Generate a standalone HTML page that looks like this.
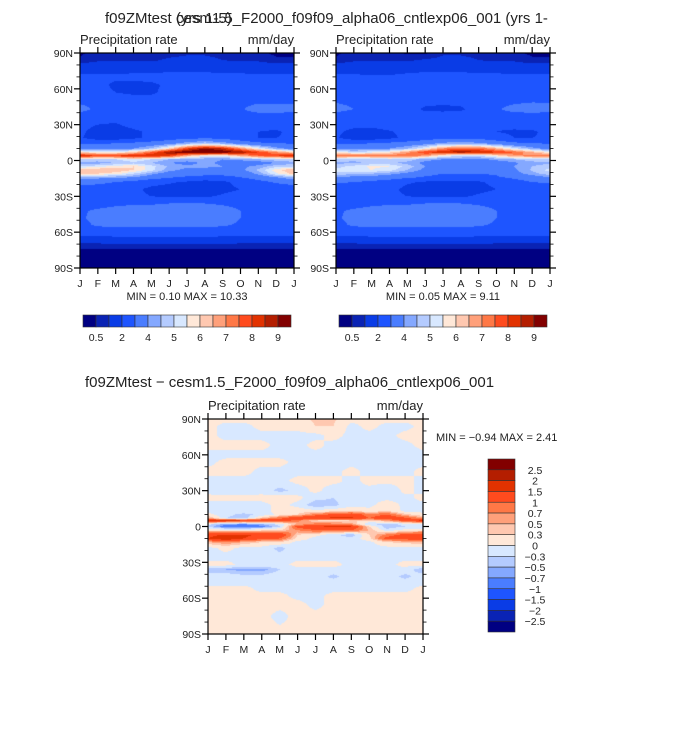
<!DOCTYPE html>
<html><head><meta charset="utf-8">
<style>
html,body{margin:0;padding:0;background:#fff;}
#root{position:relative;width:673px;height:741px;overflow:hidden;font-family:"Liberation Sans",sans-serif;}
canvas{position:absolute;}
svg{position:absolute;left:0;top:0;}
</style></head>
<body>
<div id="root">
<canvas id="cA" style="left:80px;top:53px" width="214" height="215"></canvas>
<canvas id="cB" style="left:336px;top:53px" width="214" height="215"></canvas>
<canvas id="cC" style="left:208px;top:419px" width="215" height="215"></canvas>
<svg id="ov" width="673" height="741"></svg>
</div>
<script>
const months=["J","F","M","A","M","J","J","A","S","O","N","D","J"];
const latTicks=["90N","60N","30N","0","30S","60S","90S"];
const levelsAbs=[0.5,1,2,3,4,4.5,5,5.5,6,6.5,7,7.5,8,8.5,9];
const levelsAbsLabels=["0.5","2","4","5","6","7","8","9"];
const levelsDiff=[-2.5,-2,-1.5,-1,-0.7,-0.5,-0.3,0,0.3,0.5,0.7,1,1.5,2,2.5];
const levelsDiffLabels=["2.5","2","1.5","1","0.7","0.5","0.3","0","\u22120.3","\u22120.5","\u22120.7","\u22121","\u22121.5","\u22122","\u22122.5"];
const palette=["#000082","#0a23b4","#0a3ce6","#1e55ff","#4a7dff","#84a8ff","#b4cbff","#d8e8ff","#ffe8d8","#ffc8b0","#ffa07a","#ff7846","#ff4b1e","#e23200","#b41e00","#820000"];

const latsA=[90,84,78,70,63,57,50,43,37,30,24,19,14,10,7,4,1,-2,-5,-8,-11,-14,-18,-24,-30,-36,-42,-48,-54,-60,-65,-70,-75,-80,-90];
const precipA=[
[0.4,0.7,0.8,0.8,0.8,0.8,0.9,0.9,0.8,0.7,0.6,0.4,0.4],
[0.6,0.9,0.9,0.9,0.9,1.1,1.2,1.2,1.0,0.9,0.9,0.6,0.6],
[1.5,1.5,1.5,1.5,1.5,1.6,1.6,1.6,1.5,1.5,1.5,1.5,1.5],
[2.2,2.2,2.2,2.3,2.3,2.4,2.4,2.4,2.3,2.3,2.2,2.2,2.2],
[2.5,2.3,1.8,1.7,1.8,2.2,2.5,2.5,2.5,2.5,2.5,2.5,2.5],
[2.6,2.4,2.0,1.8,1.8,2.4,2.6,2.6,2.6,2.6,2.6,2.6,2.6],
[2.8,2.7,2.6,2.5,2.5,2.5,2.6,2.6,2.6,2.7,2.8,2.8,2.8],
[3.3,2.8,2.6,2.5,2.5,2.5,2.6,2.6,2.6,2.9,3.4,3.4,3.3],
[2.6,2.4,2.4,2.5,2.5,2.5,2.6,2.6,2.5,2.6,2.6,2.6,2.6],
[2.3,2.0,1.9,2.3,2.5,2.5,2.5,2.5,2.3,2.1,2.2,2.3,2.3],
[2.2,1.6,1.5,1.8,2.2,2.3,2.5,2.5,2.4,2.1,2.0,1.9,2.2],
[2.1,1.5,1.5,1.8,2.2,2.5,2.7,2.8,2.7,2.3,2.0,2.0,2.1],
[3.0,3.0,3.1,3.3,3.5,3.8,4.5,5,4.5,3.8,3.3,3.1,3.0],
[3.6,3.6,3.8,4.0,4.6,6,8,9,8.5,7,5.5,4.3,3.6],
[6,5.5,5.5,6,7.5,9,9.5,10,9.5,9,8,7,6],
[8.5,8,8,8.5,8.5,8,6.5,5.5,5.5,6.5,7.5,8,8.5],
[5,4.8,5,5.5,5,4.5,4.3,4.2,4,4.2,4.5,4.8,5],
[4.3,4.3,4.5,4.8,4.5,4.0,3.8,4.1,3.9,3.5,3.6,4,4.3],
[5,5.3,5.7,6,5.2,4.4,4.1,4.2,4.0,3.8,4.2,4.8,5],
[6.5,6.5,6.5,6,5.2,4.2,3.8,3.6,3.6,3.8,4.6,5.8,6.5],
[6.2,6,5.7,5,4.2,3.6,3.3,3.2,3.2,3.3,4.2,5.4,6.2],
[4.5,4.3,4.2,4,3.5,3.1,2.9,2.8,2.8,3.0,3.4,4.0,4.5],
[3.3,3.2,3.0,2.7,2.3,2.1,1.9,1.6,1.8,2.3,2.7,3.1,3.3],
[2.6,2.6,2.5,2.2,1.8,1.7,1.7,1.6,1.8,2.0,2.3,2.5,2.6],
[2.6,2.5,2.4,2.2,2.0,1.9,1.9,1.9,2.1,2.3,2.4,2.5,2.6],
[2.7,2.7,2.8,2.9,2.9,3.0,3.0,3.0,2.9,2.8,2.7,2.7,2.7],
[2.9,3.1,3.3,3.4,3.5,3.5,3.5,3.5,3.3,3.0,2.9,2.9,2.9],
[2.9,3.2,3.4,3.4,3.4,3.4,3.4,3.4,3.3,3.0,2.9,2.9,2.9],
[2.8,3.1,3.2,3.2,3.2,3.2,3.2,3.2,3.1,2.9,2.8,2.8,2.8],
[2.5,2.5,2.6,2.6,2.6,2.6,2.6,2.6,2.5,2.5,2.5,2.5,2.5],
[1.7,1.7,1.8,1.8,1.8,1.8,1.8,1.8,1.8,1.7,1.7,1.7,1.7],
[0.9,0.9,1.0,1.0,1.0,1.0,1.0,1.0,1.0,0.9,0.9,0.9,0.9],
[0.4,0.4,0.4,0.4,0.4,0.4,0.4,0.4,0.4,0.4,0.4,0.4,0.4],
[0.3,0.3,0.3,0.3,0.3,0.3,0.3,0.3,0.3,0.3,0.3,0.3,0.3],
[0.2,0.2,0.2,0.2,0.2,0.2,0.2,0.2,0.2,0.2,0.2,0.2,0.2]];

const latsB=latsA;
const precipB=[
[0.4,0.7,0.8,0.8,0.4,0.4,0.9,0.9,0.8,0.7,0.6,0.4,0.4],
[0.6,0.9,0.9,0.9,0.9,1.1,1.2,1.2,1.0,0.9,0.9,0.6,0.6],
[1.5,1.5,1.5,1.5,1.5,1.6,1.6,1.6,1.5,1.5,1.5,1.5,1.5],
[2.2,2.2,2.1,2.1,2.3,2.4,2.4,2.4,2.3,2.3,2.2,2.2,2.2],
[2.5,2.5,2.3,2.3,2.4,2.5,2.5,2.5,2.5,2.5,2.5,2.5,2.5],
[2.6,2.6,2.6,2.6,2.6,2.6,2.6,2.6,2.6,2.6,2.6,2.6,2.6],
[2.9,2.8,2.6,2.5,2.5,2.4,2.3,2.4,2.6,2.7,2.8,2.9,2.9],
[3.3,3.0,2.6,2.5,2.5,1.8,1.7,1.8,2.6,2.9,3.3,3.4,3.3],
[2.6,2.4,2.4,2.5,2.5,2.5,2.6,2.6,2.5,2.6,2.6,2.6,2.6],
[2.5,2.3,2.3,2.5,2.6,2.6,2.7,2.6,2.3,2.1,2.2,2.3,2.5],
[2.2,1.7,1.6,1.9,2.3,2.7,3.0,2.8,2.4,2.0,1.9,1.9,2.2],
[2.1,1.5,1.5,1.8,2.2,2.5,2.7,2.8,2.7,2.3,2.0,2.0,2.1],
[3.0,3.0,3.1,3.3,3.5,3.8,4.3,4.5,4.3,3.8,3.3,3.1,3.0],
[3.6,3.6,3.8,4.0,4.5,5.5,7,7.5,7.5,6.5,5.2,4.3,3.6],
[5.5,5.2,5.3,5.8,6.8,8,8.5,9,8.5,8.2,7.5,6.5,5.5],
[7.5,7.2,7.2,7.3,7.5,6.8,5.5,5,5,5.8,6.8,7.2,7.5],
[4.8,4.6,4.8,5,4.8,4.2,4.0,4.0,3.8,4.2,4.5,4.8,4.8],
[4.4,4.4,4.6,4.6,4.3,3.8,3.6,3.6,3.5,3.5,3.9,4.3,4.4],
[4.8,5.2,5.6,5.5,4.8,4.0,3.8,3.8,3.7,3.7,4.0,4.5,4.8],
[5.2,5.3,5.5,5.2,4.5,3.8,3.4,3.3,3.3,3.4,3.9,4.6,5.2],
[4.8,4.6,4.5,4.2,3.8,3.3,3.0,3.0,3.0,3.1,3.7,4.3,4.8],
[4.0,3.8,3.7,3.5,3.2,2.9,2.7,2.7,2.7,2.9,3.2,3.6,4.0],
[3.1,3.0,2.8,2.5,2.1,1.9,1.8,1.8,1.9,2.2,2.6,3.0,3.1],
[2.6,2.6,2.5,2.2,1.8,1.7,1.7,1.7,1.8,2.0,2.3,2.5,2.6],
[2.6,2.5,2.4,2.2,2.0,1.9,1.9,1.9,2.1,2.3,2.4,2.5,2.6],
[2.7,2.7,2.8,2.9,2.9,3.0,3.0,3.0,2.9,2.8,2.7,2.7,2.7],
[2.9,3.1,3.3,3.4,3.5,3.5,3.5,3.5,3.3,3.0,2.9,2.9,2.9],
[2.9,3.2,3.4,3.4,3.4,3.4,3.4,3.4,3.3,3.0,2.9,2.9,2.9],
[2.8,3.1,3.2,3.2,3.2,3.2,3.2,3.2,3.1,2.9,2.8,2.8,2.8],
[2.5,2.5,2.6,2.6,2.6,2.6,2.6,2.6,2.5,2.5,2.5,2.5,2.5],
[1.7,1.7,1.8,1.8,1.8,1.8,1.8,1.8,1.8,1.7,1.7,1.7,1.7],
[0.9,0.9,1.0,1.0,1.0,1.0,1.0,1.0,1.0,0.9,0.9,0.9,0.9],
[0.4,0.4,0.4,0.4,0.4,0.4,0.4,0.4,0.4,0.4,0.4,0.4,0.4],
[0.3,0.3,0.3,0.3,0.3,0.3,0.3,0.3,0.3,0.3,0.3,0.3,0.3],
[0.2,0.2,0.2,0.2,0.2,0.2,0.2,0.2,0.2,0.2,0.2,0.2,0.2]];

const latsC=[90,84,76,68,60,54,46,38,30,24,18,13,10,7,5,2,0,-3,-7,-10,-13,-18,-25,-32,-36,-42,-47,-52,-58,-65,-75,-90];
const diffC=[
[0.1,0.1,0.1,0.1,0.1,0.2,0.35,0.35,0.1,0.1,0.1,0.1,0.1],
[0.1,-0.1,-0.1,0.1,0.1,0.1,0.3,0.3,-0.1,0.1,-0.1,-0.1,0.1],
[0.1,-0.1,-0.1,-0.1,-0.1,-0.1,-0.1,0.1,-0.1,-0.1,-0.1,0.1,0.1],
[0.1,0.1,0.1,0.1,-0.1,-0.1,0.1,-0.1,-0.1,-0.1,-0.1,-0.1,0.1],
[-0.1,-0.1,-0.1,-0.1,-0.1,-0.1,-0.1,-0.1,-0.1,-0.1,-0.1,-0.1,-0.1],
[-0.1,0.1,0.1,0.1,0.1,-0.1,-0.1,-0.1,-0.1,-0.1,-0.1,-0.1,-0.1],
[0.1,0.1,0.1,-0.1,-0.1,-0.1,-0.1,-0.1,0.1,-0.1,-0.1,-0.1,0.1],
[-0.1,-0.1,-0.1,-0.1,-0.1,0.1,0.1,0.1,-0.1,0.1,0.1,0.1,-0.1],
[-0.1,-0.2,-0.2,-0.1,-0.4,-0.2,0.1,-0.2,-0.1,-0.1,-0.3,0.1,-0.1],
[0.1,0.1,0.1,0.1,0.2,0.1,-0.2,-0.3,-0.1,-0.1,-0.1,-0.1,0.1],
[-0.1,-0.1,-0.1,-0.1,0.1,-0.1,-0.5,-0.4,-0.1,-0.1,0.2,-0.1,-0.1],
[-0.1,-0.1,-0.1,-0.1,0.1,0.2,0.1,0.2,0.3,0.1,0.3,-0.1,-0.1],
[0.1,-0.2,-0.4,-0.2,0.1,0.3,0.8,1.1,1.3,0.8,1.0,0.4,0.1],
[0.6,-0.3,-0.5,0.4,0.9,1.4,1.6,1.6,1.6,1.0,1.4,1.1,0.6],
[1.6,1.6,1.5,1.5,1.3,0.8,0.3,0.2,0.3,0.3,0.6,1.2,1.6],
[-0.2,-0.6,-0.7,-0.5,-0.2,0.5,0.8,0.8,0.6,-0.3,-0.4,-0.2,-0.2],
[-0.3,-0.9,-0.9,-0.8,-0.3,1.2,1.4,1.6,1.5,0.3,-0.5,-0.3,-0.3],
[0.2,0.1,0.1,0.2,0.3,0.7,1.0,1.0,1.0,0.5,-0.2,0.1,0.2],
[1.3,1.6,1.6,1.4,1.5,0.3,0.1,-0.2,-0.5,0.3,0.8,1.2,1.3],
[1.5,2.0,1.5,1.2,1.0,0.2,-0.1,-0.1,-0.2,0.2,1.2,1.2,1.5],
[0.5,0.7,0.5,0.3,0.3,-0.1,-0.1,-0.1,-0.1,-0.1,0.3,0.4,0.5],
[-0.1,0.1,-0.1,-0.1,-0.4,-0.1,-0.1,-0.1,-0.1,-0.1,-0.1,-0.1,-0.1],
[-0.1,-0.1,-0.1,-0.1,-0.2,-0.1,-0.1,-0.1,-0.1,-0.1,-0.1,-0.1,-0.1],
[0.1,0.1,-0.1,-0.1,-0.1,0.1,0.1,0.1,-0.1,-0.1,-0.1,0.1,0.1],
[-0.5,-0.5,-0.6,-0.6,-0.3,-0.1,-0.1,-0.1,-0.1,-0.1,-0.1,-0.1,-0.5],
[-0.1,-0.1,-0.2,-0.2,-0.1,-0.1,-0.1,-0.4,-0.1,-0.1,-0.1,-0.4,-0.1],
[-0.1,-0.1,-0.1,-0.1,-0.1,-0.1,-0.1,-0.1,-0.1,-0.1,-0.1,-0.1,-0.1],
[0.1,0.1,0.1,-0.1,-0.1,-0.1,-0.1,-0.1,-0.1,-0.1,-0.1,-0.1,0.1],
[0.1,0.1,0.1,0.1,0.1,-0.1,-0.1,0.1,0.1,0.1,0.1,0.1,0.1],
[0.1,0.1,0.1,0.1,0.1,0.1,-0.1,0.1,0.1,0.1,0.1,0.1,0.1],
[0.1,0.1,0.1,0.1,-0.1,0.1,0.1,0.1,0.1,0.1,0.1,0.1,0.1],
[0.1,0.1,0.1,0.1,0.1,0.1,0.1,0.1,0.1,0.1,0.1,0.1,0.1]];

function colorFor(v,levels){let i=0;while(i<levels.length&&v>=levels[i])i++;return palette[i];}
function sample(lats,grid,lat,m){
  let r=0;while(r<lats.length-2&&lat<lats[r+1])r++;
  const t=Math.min(1,Math.max(0,(lats[r]-lat)/(lats[r]-lats[r+1])));
  const c=Math.min(11,Math.floor(m)),u=m-c;
  const a=grid[r][c]*(1-u)+grid[r][c+1]*u;
  const b=grid[r+1][c]*(1-u)+grid[r+1][c+1]*u;
  return a*(1-t)+b*t;
}
function drawField(id,lats,grid,levels){
  const cv=document.getElementById(id),ctx=cv.getContext('2d');
  const W=cv.width,H=cv.height;
  for(let y=0;y<H;y++){
    const lat=90-180*(y+0.5)/H;
    for(let x=0;x<W;x++){
      const m=12*(x+0.5)/W;
      ctx.fillStyle=colorFor(sample(lats,grid,lat,m),levels);
      ctx.fillRect(x,y,1,1);
    }
  }
}
drawField('cA',latsA,precipA,levelsAbs);
drawField('cB',latsB,precipB,levelsAbs);
drawField('cC',latsC,diffC,levelsDiff);

const NS='http://www.w3.org/2000/svg';
const ov=document.getElementById('ov');
function el(tag,attrs,parent){const e=document.createElementNS(NS,tag);for(const k in attrs)e.setAttribute(k,attrs[k]);(parent||ov).appendChild(e);return e;}
function txt(x,y,s,size,anchor,name){const t=el('text',{x:x,y:y,'font-size':size,'text-anchor':anchor||'start',fill:'#222','font-family':'Liberation Sans, sans-serif','xml:space':'preserve'});t.textContent=s;


return t;}
function axes(x0,y0,w,h,pfx){
  const g=el('g',{});
  
  
  el('rect',{x:x0,y:y0,width:w,height:h,fill:'none',stroke:'#000','stroke-width':1.2},g);
  const xs=m=>x0+w*m/12, ys=l=>y0+h*(90-l)/180;
  months.forEach((mn,i)=>{
    const x=xs(i);
    el('line',{x1:x,y1:y0+h,x2:x,y2:y0+h+6,stroke:'#000','stroke-width':1.2},g);
    el('line',{x1:x,y1:y0,x2:x,y2:y0-6,stroke:'#000','stroke-width':1.2},g);
    txt(x,y0+h+19,mn,10.5,'middle',pfx+'-month-label');
  });
  for(let l=90;l>=-90;l-=10){
    const y=ys(l),major=(l%30===0),len=major?6:3.5;
    el('line',{x1:x0,y1:y,x2:x0-len,y2:y,stroke:'#000','stroke-width':major?1.2:0.8},g);
    el('line',{x1:x0+w,y1:y,x2:x0+w+len,y2:y,stroke:'#000','stroke-width':major?1.2:0.8},g);
  }
  latTicks.forEach((lb,i)=>txt(x0-7,ys(90-30*i)+4,lb,10.5,'end',pfx+'-lat-label'));
  txt(x0,y0-9,'Precipitation rate',13,'start',pfx+'-variable-title');
  txt(x0+w,y0-9,'mm/day',13,'end',pfx+'-units');
}
axes(80,53,214,215,'panel-a');
axes(336,53,214,215,'panel-b');
axes(208,419,215,215,'panel-c');

function hbar(x0,y0,w,h,pfx){
  const bw=w/16;
  palette.forEach((c,i)=>{const r=el('rect',{x:x0+i*bw,y:y0,width:bw,height:h,fill:c,stroke:'#333','stroke-width':0.6});
  
  });
  levelsAbsLabels.forEach((lb,i)=>txt(x0+(2*i+1)*bw,y0+h+14,lb,10.5,'middle',pfx+'-colorbar-label'));
}
hbar(83,315,208,12,'panel-a');
hbar(339,315,208,12,'panel-b');
(function(){
  const x0=488,y0=459,w=27,h=173,bh=h/16;
  for(let i=0;i<16;i++){const r=el('rect',{x:x0,y:y0+i*bh,width:w,height:bh,fill:palette[15-i],stroke:'#333','stroke-width':0.6});
  
  }
  levelsDiffLabels.forEach((lb,i)=>txt(535,y0+(i+1)*bh+4,lb,10.5,'middle','diff-colorbar-label'));
})();

txt(105,23,'f09ZMtest (yrs 1-5)',15,'start','title-model');
txt(176,23,'cesm1.5_F2000_f09f09_alpha06_cntlexp06_001 (yrs 1-',15,'start','title-control');
txt(187,300,'MIN =    0.10  MAX =   10.33',11,'middle','panel-a-minmax');
txt(443,300,'MIN =    0.05  MAX =    9.11',11,'middle','panel-b-minmax');
txt(85,387,'f09ZMtest \u2212 cesm1.5_F2000_f09f09_alpha06_cntlexp06_001',15,'start','title-difference');
txt(436,441,'MIN =  \u22120.94  MAX =    2.41',11,'start','panel-c-minmax');
</script>
</body></html>
